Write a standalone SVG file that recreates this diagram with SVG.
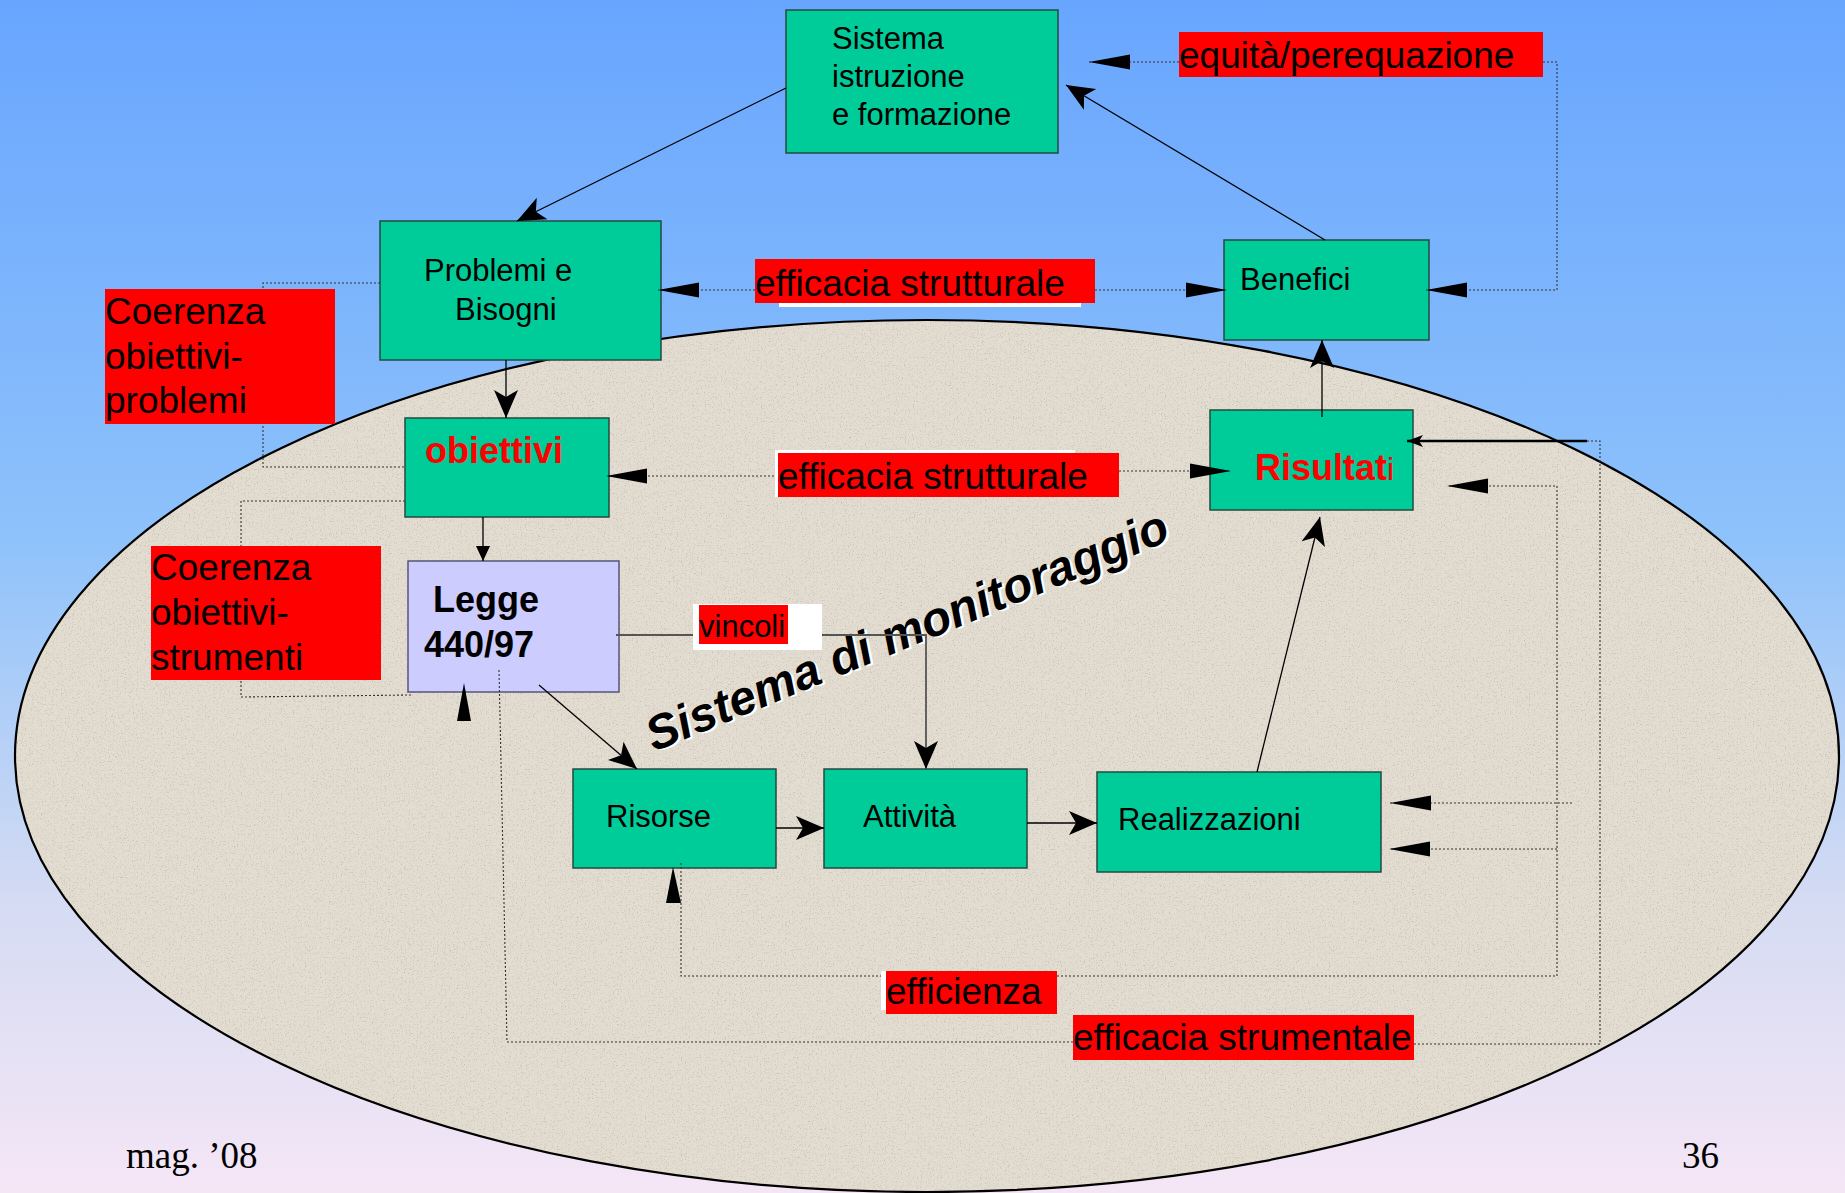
<svg xmlns="http://www.w3.org/2000/svg" width="1845" height="1193" viewBox="0 0 1845 1193">
<defs>
<linearGradient id="bg" x1="0" y1="0" x2="0" y2="1">
<stop offset="0" stop-color="#68a5fe"/>
<stop offset="0.45" stop-color="#8ec2fb"/>
<stop offset="0.75" stop-color="#d4dbf3"/>
<stop offset="1" stop-color="#f5e6f6"/>
</linearGradient>
<filter id="grain" x="0%" y="0%" width="100%" height="100%">
<feTurbulence type="fractalNoise" baseFrequency="0.75" numOctaves="2" seed="4" result="t"/>
<feColorMatrix in="t" type="matrix" values="0 0 0 0 0.40  0 0 0 0 0.37  0 0 0 0 0.33  -3.6 0 0 0 1.62" result="spots"/>
<feComposite in="spots" in2="SourceGraphic" operator="in"/>
</filter>
<marker id="big" markerUnits="userSpaceOnUse" markerWidth="44" markerHeight="18" refX="41" refY="8" orient="auto" overflow="visible">
<path d="M0,0.5 L41,8 L0,15.5 Z" fill="#000"/>
</marker>
<marker id="stealth" markerUnits="userSpaceOnUse" markerWidth="30" markerHeight="26" refX="28" refY="12" orient="auto" overflow="visible">
<path d="M0,0 L28,12 L0,24 L7,12 Z" fill="#000"/>
</marker>
<marker id="tri" markerUnits="userSpaceOnUse" markerWidth="16" markerHeight="14" refX="15" refY="7" orient="auto" overflow="visible">
<path d="M0,0 L15,7 L0,14 Z" fill="#000"/>
</marker>
<marker id="smst" markerUnits="userSpaceOnUse" markerWidth="18" markerHeight="14" refX="16" refY="6" orient="auto" overflow="visible">
<path d="M0,0 L16,6 L0,12 L4,6 Z" fill="#000"/>
</marker>
</defs>
<style>
.node{fill:#00cc99;stroke:#244a40;stroke-width:1.5}
.law{fill:#ccccff;stroke:#555577;stroke-width:1.5}
.t{font-family:"Liberation Sans",Arial,sans-serif;font-size:31px;fill:#000}
.b{font-family:"Liberation Sans",Arial,sans-serif;font-size:36px;font-weight:bold}
.red{fill:#ff0000}
.lab{font-family:"Liberation Sans",Arial,sans-serif;font-size:37px;fill:#000}
.sol{fill:none;stroke:#000;stroke-width:1.3}
.dot{fill:none;stroke:#333;stroke-width:1.1;stroke-dasharray:2 2}
.foot{font-family:"Liberation Serif","Times New Roman",serif;font-size:37px;fill:#000}
.mon{font-family:"Liberation Sans",Arial,sans-serif;font-size:48px;font-weight:bold;font-style:italic}
</style>
<rect x="0" y="0" width="1845" height="1193" fill="url(#bg)"/>
<g id="monitoring-area">
<ellipse cx="927" cy="756" rx="912" ry="436" fill="#e3dcd0"/>
<ellipse cx="927" cy="756" rx="912" ry="436" fill="#fff" filter="url(#grain)" opacity="0.5"/>
<ellipse cx="927" cy="756" rx="912" ry="436" fill="none" stroke="#000" stroke-width="2.2"/>
<text class="mon" x="656" y="754" fill="#fff" transform="rotate(-22.3 654 752)">Sistema di monitoraggio</text>
<text class="mon" x="654" y="752" fill="#000" transform="rotate(-22.3 654 752)">Sistema di monitoraggio</text>
</g>
<g id="n-sistema"><rect class="node" x="786" y="10" width="272" height="143"/>
<text class="t" x="832" y="49">Sistema</text><text class="t" x="832" y="87">istruzione</text><text class="t" x="832" y="125">e formazione</text></g>
<g id="n-problemi"><rect class="node" x="380" y="221" width="281" height="139"/>
<text class="t" x="424" y="281">Problemi e</text><text class="t" x="455" y="320">Bisogni</text></g>
<g id="n-obiettivi"><rect class="node" x="405" y="418" width="204" height="99"/>
<text class="b red" x="425" y="463">obiettivi</text></g>
<g id="n-legge"><rect class="law" x="408" y="561" width="211" height="131"/>
<text class="b" x="433" y="612">Legge</text><text class="b" x="424" y="657">440/97</text></g>
<g id="n-risorse"><rect class="node" x="573" y="769" width="203" height="99"/>
<text class="t" x="606" y="827">Risorse</text></g>
<g id="n-attivita"><rect class="node" x="824" y="769" width="203" height="99"/>
<text class="t" x="863" y="827">Attività</text></g>
<g id="n-realizzazioni"><rect class="node" x="1097" y="772" width="284" height="100"/>
<text class="t" x="1118" y="830">Realizzazioni</text></g>
<g id="n-risultati"><rect class="node" x="1210" y="410" width="203" height="100"/>
<text class="b red" x="1255" y="480">Risultat<tspan font-weight="normal" font-size="32">i</tspan></text></g>
<g id="n-benefici"><rect class="node" x="1224" y="240" width="205" height="100"/>
<text class="t" x="1240" y="290">Benefici</text></g>
<g id="connectors">
<path class="sol" d="M786,88 L517,221" marker-end="url(#stealth)"/>
<path class="sol" d="M1325,240 L1066,85" marker-end="url(#stealth)"/>
<path class="sol" d="M1322,417 L1322,340" marker-end="url(#stealth)"/>
<path class="sol" d="M506,360 L506,418" marker-end="url(#stealth)"/>
<path class="sol" d="M483,517 L483,561" marker-end="url(#tri)"/>
<path d="M616,635 H926 V769" fill="none" stroke="#555" stroke-width="1.8" marker-end="url(#stealth)"/>
<path class="sol" d="M539,685 L637,769" marker-end="url(#stealth)"/>
<path class="sol" d="M776,828 H824" marker-end="url(#stealth)"/>
<path class="sol" d="M1027,823 H1097" marker-end="url(#stealth)"/>
<path class="sol" d="M1257,772 L1320,517" marker-end="url(#stealth)"/>
<path d="M1587,441 H1407" fill="none" stroke="#000" stroke-width="2.6" marker-end="url(#smst)"/>
<path class="dot" d="M1179,62 H1089" marker-end="url(#big)"/>
<path class="dot" d="M1543,62 H1557 V290 H1426" marker-end="url(#big)"/>
<path class="dot" d="M755,290 H658" marker-end="url(#big)"/>
<path class="dot" d="M1095,290 H1227" marker-end="url(#big)"/>
<path class="dot" d="M778,476 H606" marker-end="url(#big)"/>
<path class="dot" d="M1119,471 H1231" marker-end="url(#big)"/>
<path class="dot" d="M380,283 H263 V467 H405"/>
<path class="dot" d="M405,501 H241 V697 L411,695"/>
<path class="dot" d="M1587,441 H1600 V1044 H1414"/>
<path class="dot" d="M1073,1042 H507 L499,670"/>
<polygon points="464,683 471,721 457,721" fill="#000"/>
<path class="dot" d="M886,976 H681 V861"/>
<polygon points="673,867 681,903 666,903" fill="#000"/>
<path class="dot" d="M1057,976 H1557 V486 H1447" marker-end="url(#big)"/>
<path class="dot" d="M1572,803 H1390" marker-end="url(#big)"/>
<path class="dot" d="M1557,849 H1389" marker-end="url(#big)"/>
</g>
<g id="l-equita"><rect x="1179" y="32" width="364" height="45" fill="#ff0000"/>
<text class="lab" x="1179" y="68">equità/perequazione</text></g>
<g id="l-eff-strutt-1"><rect x="779" y="259" width="302" height="48" fill="#fff"/><rect x="755" y="259" width="340" height="44" fill="#ff0000"/>
<text class="lab" x="755" y="296">efficacia strutturale</text></g>
<g id="l-eff-strutt-2"><rect x="775" y="450" width="300" height="47" fill="#fff"/><rect x="778" y="453" width="341" height="44" fill="#ff0000"/>
<text class="lab" x="778" y="489">efficacia strutturale</text></g>
<g id="l-coer-1"><rect x="105" y="289" width="230" height="135" fill="#ff0000"/>
<text class="lab" x="105" y="324">Coerenza</text><text class="lab" x="105" y="369">obiettivi-</text><text class="lab" x="105" y="413">problemi</text></g>
<g id="l-coer-2"><rect x="151" y="546" width="230" height="134" fill="#ff0000"/>
<text class="lab" x="151" y="580">Coerenza</text><text class="lab" x="151" y="625">obiettivi-</text><text class="lab" x="151" y="670">strumenti</text></g>
<g id="l-vincoli"><rect x="693" y="604" width="129" height="46" fill="#fff"/><rect x="699" y="605" width="89" height="39" fill="#ff0000"/>
<text class="t" x="699" y="637">vincoli</text></g>
<g id="l-efficienza"><rect x="881" y="971" width="169" height="39" fill="#fff"/><rect x="886" y="971" width="171" height="43" fill="#ff0000"/>
<text class="lab" x="886" y="1004">efficienza</text></g>
<g id="l-eff-strum"><rect x="1073" y="1015" width="341" height="45" fill="#ff0000"/>
<text class="lab" x="1073" y="1050" font-size="35">efficacia strumentale</text></g>
<g id="footer">
<text class="foot" x="126" y="1168">mag. ’08</text>
<text class="foot" x="1682" y="1168">36</text>
</g>
</svg>
